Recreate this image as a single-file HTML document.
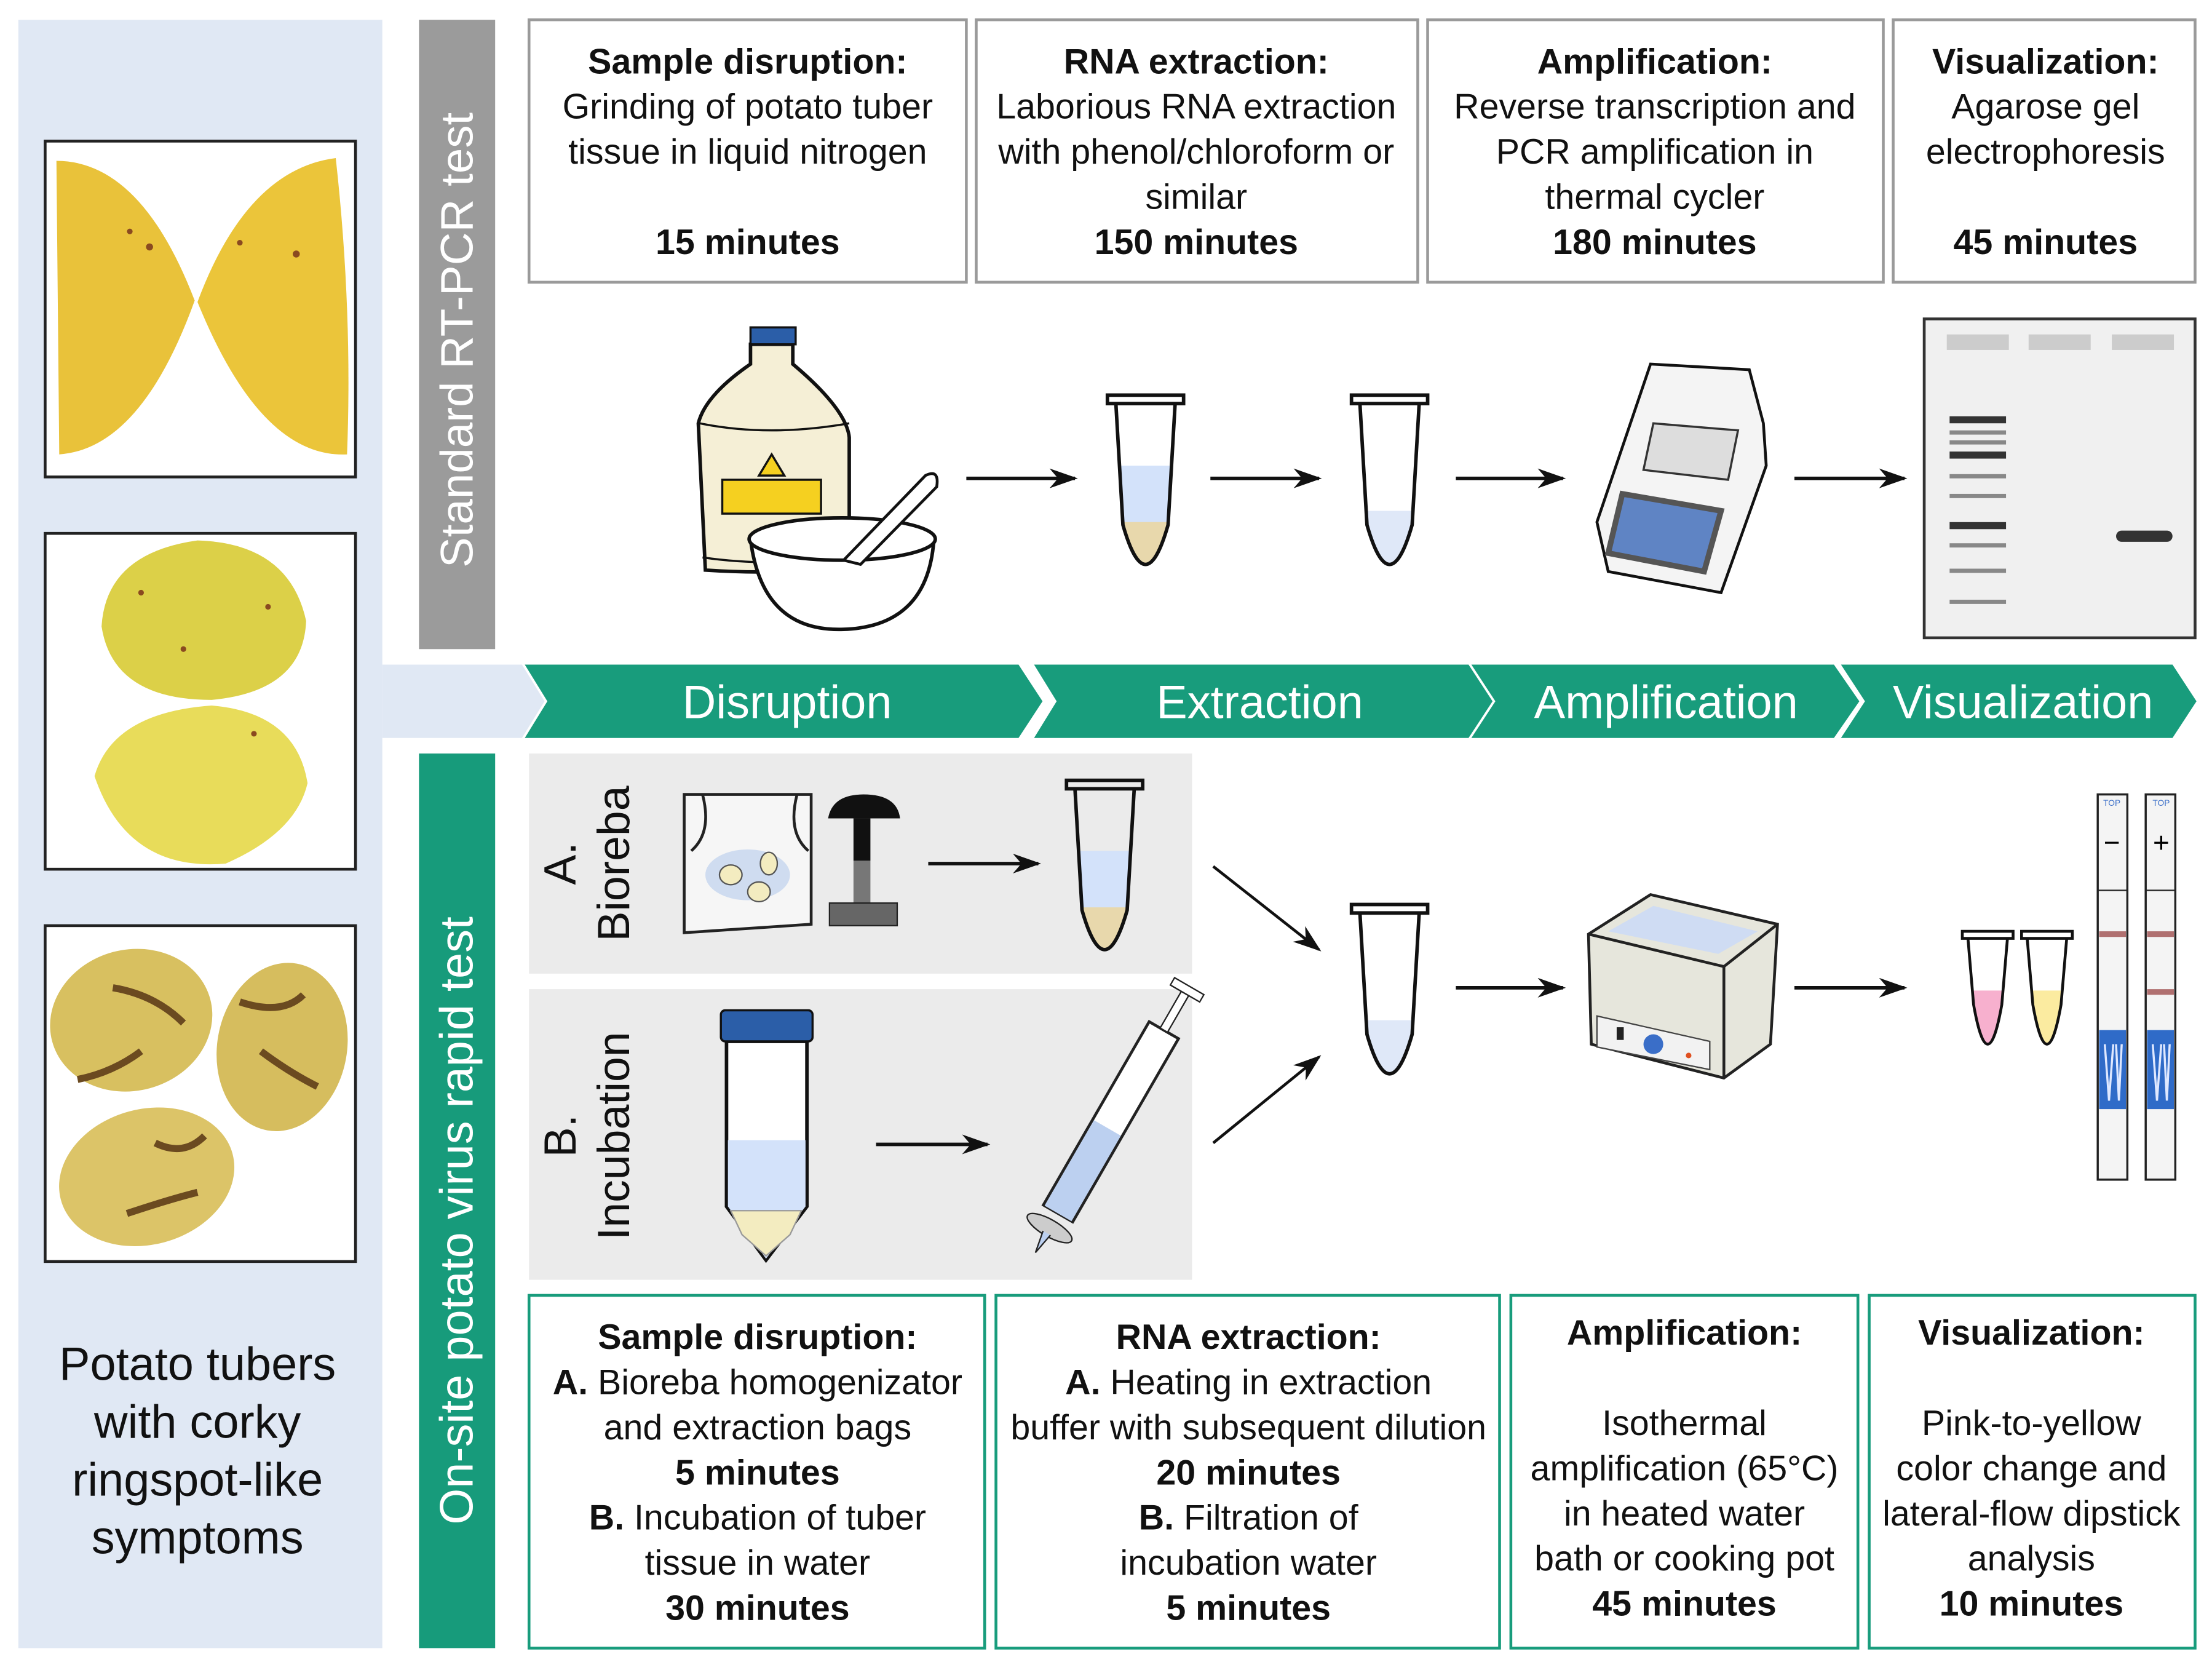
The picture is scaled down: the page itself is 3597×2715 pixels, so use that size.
<!DOCTYPE html>
<html><head><meta charset="utf-8"><style>
html,body{margin:0;padding:0;background:#fff}
svg{display:block}
text{font-family:"Liberation Sans",Arial,sans-serif}
</style></head><body>
<svg width="3597" height="2715" viewBox="0 0 1568 1183.5" xmlns="http://www.w3.org/2000/svg">
<defs>
<marker id="ah" viewBox="0 0 20 14" refX="18" refY="7" markerWidth="20" markerHeight="14" markerUnits="userSpaceOnUse" orient="auto">
<path d="M0,0 L20,7 L0,14 L6,7 Z" fill="#111"/></marker>
</defs>

<!-- left panel -->
<rect x="13" y="14" width="258" height="1154" fill="#e0e8f4"/>
<path d="M271,471 L370,471 L386,497 L370,523 L271,523 Z" fill="#e0e8f4"/>
<rect x="32" y="100" width="220" height="238" fill="#fff" stroke="#222" stroke-width="2"/>
<rect x="32" y="378" width="220" height="238" fill="#fff" stroke="#222" stroke-width="2"/>
<rect x="32" y="656" width="220" height="238" fill="#fff" stroke="#222" stroke-width="2"/>
<path d="M40,114 Q100,114 138,213 Q100,318 42,322 Z" fill="#e9c23a"/>
<path d="M140,214 Q175,120 238,112 Q250,220 246,322 Q185,325 140,214 Z" fill="#ebc53a"/>
<circle cx="92" cy="164" r="2" fill="#8a4a20"/><circle cx="106" cy="175" r="2.5" fill="#8a4a20"/><circle cx="210" cy="180" r="2.5" fill="#8a4a20"/><circle cx="170" cy="172" r="2" fill="#8a4a20"/>
<path d="M72,444 Q75,392 140,383 Q205,385 217,440 Q215,490 150,496 Q80,496 72,444Z" fill="#dcd048"/>
<path d="M67,550 Q80,505 150,500 Q210,505 218,555 Q210,590 160,612 Q90,618 67,550Z" fill="#e8dc5a"/>
<circle cx="100" cy="420" r="2" fill="#8a4a20"/><circle cx="190" cy="430" r="2" fill="#8a4a20"/><circle cx="130" cy="460" r="2" fill="#8a4a20"/><circle cx="180" cy="520" r="2" fill="#8a4a20"/>
<ellipse cx="93" cy="723" rx="58" ry="50" transform="rotate(-15 93 723)" fill="#d8c060"/>
<ellipse cx="200" cy="742" rx="46" ry="60" transform="rotate(10 200 742)" fill="#d6bd5e"/>
<ellipse cx="104" cy="834" rx="63" ry="48" transform="rotate(-15 104 834)" fill="#dcc468"/>
<path d="M80,700 Q110,705 130,725 M100,745 Q80,760 55,765 M170,710 Q200,720 215,705 M185,745 Q205,760 225,770 M110,810 Q130,820 145,805 M90,860 Q120,850 140,845" stroke="#6b4a20" stroke-width="5" fill="none"/>
<text font-size="33" text-anchor="middle" fill="#111"><tspan x="140" y="978">Potato tubers</tspan><tspan x="140" y="1019">with corky</tspan><tspan x="140" y="1060">ringspot-like</tspan><tspan x="140" y="1101">symptoms</tspan></text>

<rect x="297" y="14" width="54" height="446" fill="#9b9b9b"/>
<text transform="translate(335,241) rotate(-90)" font-size="32.5" fill="#fff" text-anchor="middle">Standard RT-PCR test</text>
<rect x="297" y="534" width="54" height="634" fill="#179b7b"/>
<text transform="translate(335,865) rotate(-90)" font-size="33" fill="#fff" text-anchor="middle">On-site potato virus rapid test</text>

<g fill="#189c7c">
<path d="M372,471 L722,471 L739,497 L722,523 L372,523 L388,497 Z"/>
<path d="M733,471 L1041,471 L1058,497 L1041,523 L733,523 L749,497 Z"/>
<path d="M1043,471 L1300,471 L1318,497 L1300,523 L1043,523 L1060,497 Z"/>
<path d="M1305,471 L1540,471 L1557,497 L1540,523 L1305,523 L1322,497 Z"/>
</g>
<g font-size="33" fill="#fff" text-anchor="middle">
<text x="558" y="509">Disruption</text><text x="893" y="509">Extraction</text>
<text x="1181" y="509">Amplification</text><text x="1434" y="509">Visualization</text>
</g>

<g fill="#fff" stroke="#9a9a9a" stroke-width="2">
<rect x="375" y="14" width="310" height="186"/><rect x="692" y="14" width="313" height="186"/>
<rect x="1012" y="14" width="323" height="186"/><rect x="1342" y="14" width="214" height="186"/>
</g>
<g font-size="25" fill="#111" text-anchor="middle">
<text x="530" y="52" font-weight="bold">Sample disruption:</text>
<text x="530" y="84">Grinding of potato tuber</text><text x="530" y="116">tissue in liquid nitrogen</text>
<text x="530" y="180" font-weight="bold">15 minutes</text>
<text x="848" y="52" font-weight="bold">RNA extraction:</text>
<text x="848" y="84">Laborious RNA extraction</text><text x="848" y="116">with phenol/chloroform or</text>
<text x="848" y="148">similar</text><text x="848" y="180" font-weight="bold">150 minutes</text>
<text x="1173" y="52" font-weight="bold">Amplification:</text>
<text x="1173" y="84">Reverse transcription and</text><text x="1173" y="116">PCR amplification in</text>
<text x="1173" y="148">thermal cycler</text><text x="1173" y="180" font-weight="bold">180 minutes</text>
<text x="1450" y="52" font-weight="bold">Visualization:</text>
<text x="1450" y="84">Agarose gel</text><text x="1450" y="116">electrophoresis</text>
<text x="1450" y="180" font-weight="bold">45 minutes</text>
</g>

<path d="M532,244 L562,244 L562,258 Q600,290 602,310 L602,400 Q560,408 500,404 L495,300 Q500,280 532,258 Z" fill="#f5efd6" stroke="#111" stroke-width="2.5"/>
<rect x="532" y="232" width="32" height="12" fill="#2b5ea8" stroke="#111" stroke-width="1.5"/>
<path d="M496,300 Q545,310 602,300 M498,395 Q545,402 602,395" stroke="#111" stroke-width="1.5" fill="none"/>
<rect x="512" y="340" width="70" height="24" fill="#f5d020" stroke="#111" stroke-width="1.5"/>
<path d="M547,322 L556,337 L538,337 Z" fill="#f5d020" stroke="#111" stroke-width="1.5"/>
<path d="M532,382 Q540,448 598,446 Q658,444 662,382 Z" fill="#fff" stroke="#111" stroke-width="2.5"/>
<ellipse cx="597" cy="382" rx="66" ry="15" fill="#fff" stroke="#111" stroke-width="2.5"/>
<path d="M598,397 L656,337 Q666,332 664,345 L610,400 Z" fill="#fff" stroke="#111" stroke-width="2"/>
<path d="M-19,50 L-16,92 Q-8,120 0,120 Q8,120 16,92 L19,50 Z" transform="translate(812,280)" fill="#d3e2fa"/>
<path d="M-16,90 Q-8,120 0,120 Q8,120 16,90 Z" transform="translate(812,280)" fill="#e8d8ac"/>
<path d="M-17,82 L-16,92 Q-8,120 0,120 Q8,120 16,92 L17,82 Z" transform="translate(985,280)" fill="#dfe8f8"/>
<path d="M-21,6 L-16,92 Q-8,120 0,120 Q8,120 16,92 L21,6 Z M-27,0 h54 v6 h-54 Z" transform="translate(985,280)" fill="none" stroke="#111" stroke-width="2.5"/>
<path d="M-21,6 L-16,92 Q-8,120 0,120 Q8,120 16,92 L21,6 Z M-27,0 h54 v6 h-54 Z" transform="translate(812,280)" fill="none" stroke="#111" stroke-width="2.5"/>
<path d="M1170,258 L1240,262 L1250,300 L1252,330 L1220,420 L1140,405 L1132,370 Z" fill="#f4f4f4" stroke="#111" stroke-width="2"/>
<path d="M1172,300 L1232,305 L1225,340 L1165,333 Z" fill="#ddd" stroke="#333" stroke-width="1.5"/>
<path d="M1150,350 L1220,362 L1208,405 L1140,392 Z" fill="#5f84c4" stroke="#555" stroke-width="4"/>
<rect x="1364" y="226" width="192" height="226" fill="#f0f0f0" stroke="#333" stroke-width="2"/>
<g fill="#ccc"><rect x="1380" y="237" width="44" height="11"/><rect x="1438" y="237" width="44" height="11"/><rect x="1497" y="237" width="44" height="11"/></g>
<g fill="#333"><rect x="1382" y="295" width="40" height="5"/><rect x="1382" y="320" width="40" height="5"/><rect x="1382" y="370" width="40" height="5"/><rect x="1500" y="376" width="40" height="8" rx="4"/></g>
<g fill="#888"><rect x="1382" y="305" width="40" height="3"/><rect x="1382" y="312" width="40" height="3"/><rect x="1382" y="336" width="40" height="3"/><rect x="1382" y="350" width="40" height="3"/><rect x="1382" y="385" width="40" height="3"/><rect x="1382" y="403" width="40" height="3"/><rect x="1382" y="425" width="40" height="3"/></g>
<g stroke="#111" stroke-width="2.5" marker-end="url(#ah)">
<line x1="685" y1="339" x2="762" y2="339"/><line x1="858" y1="339" x2="935" y2="339"/>
<line x1="1032" y1="339" x2="1108" y2="339"/><line x1="1272" y1="339" x2="1350" y2="339"/>
</g>

<rect x="375" y="534" width="470" height="156" fill="#ebebeb"/>
<rect x="375" y="701" width="470" height="206" fill="#ebebeb"/>
<text transform="translate(408,612) rotate(-90)" font-size="32" fill="#111" text-anchor="middle">A.</text>
<text transform="translate(446,612) rotate(-90)" font-size="32" fill="#111" text-anchor="middle">Bioreba</text>
<text transform="translate(408,805) rotate(-90)" font-size="32" fill="#111" text-anchor="middle">B.</text>
<text transform="translate(446,805) rotate(-90)" font-size="32" fill="#111" text-anchor="middle">Incubation</text>
<path d="M485,563 L575,563 L575,655 L485,661 Z" fill="#f6f6f6" stroke="#222" stroke-width="2"/>
<path d="M498,563 Q505,590 490,603 M565,563 Q558,590 573,603" stroke="#222" stroke-width="2" fill="none"/>
<ellipse cx="530" cy="620" rx="30" ry="18" fill="#cfdcf0"/>
<ellipse cx="518" cy="620" rx="8" ry="7" fill="#f3ecc0" stroke="#555"/><ellipse cx="538" cy="632" rx="8" ry="7" fill="#f3ecc0" stroke="#555"/><ellipse cx="545" cy="612" rx="6" ry="8" fill="#f3ecc0" stroke="#555"/>
<path d="M587,580 Q590,563 612,563 Q636,563 638,580 Z" fill="#111"/>
<rect x="605" y="580" width="12" height="30" fill="#111"/><rect x="605" y="610" width="12" height="30" fill="#777"/>
<rect x="588" y="640" width="48" height="16" fill="#666" stroke="#222"/>
<line x1="658" y1="612" x2="736" y2="612" stroke="#111" stroke-width="2.5" marker-end="url(#ah)"/>
<path d="M-19,50 L-16,92 Q-8,120 0,120 Q8,120 16,92 L19,50 Z" transform="translate(783,553)" fill="#d3e2fa"/>
<path d="M-16,90 Q-8,120 0,120 Q8,120 16,90 Z" transform="translate(783,553)" fill="#e8d8ac"/>
<path d="M-21,6 L-16,92 Q-8,120 0,120 Q8,120 16,92 L21,6 Z M-27,0 h54 v6 h-54 Z" transform="translate(783,553)" fill="none" stroke="#111" stroke-width="2.5"/>
<path d="M515,738 L572,738 L572,855 L543,893 L515,855 Z" fill="#fff" stroke="#111" stroke-width="2.5"/>
<path d="M516,808 L571,808 L571,855 L543,892 L516,855 Z" fill="#d3e2fa"/>
<path d="M518,858 L568,858 L560,875 L543,890 L526,875 Z" fill="#f3ecc0" stroke="#999"/>
<rect x="511" y="716" width="65" height="22" rx="3" fill="#2b5ea8" stroke="#111" stroke-width="1.5"/>
<line x1="621" y1="811" x2="700" y2="811" stroke="#111" stroke-width="2.5" marker-end="url(#ah)"/>
<g transform="translate(780,808) rotate(30)">
<rect x="-12" y="-90" width="24" height="150" fill="#fff" stroke="#222" stroke-width="2"/>
<rect x="-11" y="-10" width="22" height="70" fill="#bcd0f0"/>
<rect x="-3" y="-120" width="6" height="30" fill="#fff" stroke="#222"/>
<rect x="-12" y="-126" width="24" height="6" fill="#fff" stroke="#222"/>
<ellipse cx="0" cy="72" rx="18" ry="6" fill="#ccc" stroke="#222"/>
<path d="M-3,76 L0,92 L3,76" fill="#bcd0f0" stroke="#222"/>
</g>
<g stroke="#111" stroke-width="2" marker-end="url(#ah)">
<line x1="860" y1="614" x2="935" y2="673"/><line x1="860" y1="810" x2="935" y2="749"/>
</g>
<path d="M-17,82 L-16,92 Q-8,120 0,120 Q8,120 16,92 L17,82 Z" transform="translate(985,641)" fill="#dfe8f8"/>
<path d="M-21,6 L-16,92 Q-8,120 0,120 Q8,120 16,92 L21,6 Z M-27,0 h54 v6 h-54 Z" transform="translate(985,641)" fill="none" stroke="#111" stroke-width="2.5"/>
<g stroke="#111" stroke-width="2.5" marker-end="url(#ah)">
<line x1="1032" y1="700" x2="1108" y2="700"/><line x1="1272" y1="700" x2="1350" y2="700"/>
</g>
<path d="M1126,662 L1170,634 L1260,655 L1255,740 L1222,764 L1128,740 Z" fill="#e6e6dc" stroke="#222" stroke-width="2"/>
<path d="M1126,662 L1222,685 L1260,655 M1222,685 L1222,764" stroke="#222" stroke-width="2" fill="none"/>
<path d="M1140,660 L1172,642 L1246,660 L1218,676 Z" fill="#cfdcf3"/>
<path d="M1132,720 L1212,738 L1212,758 L1132,742 Z" fill="#f2f2f2" stroke="#444"/>
<circle cx="1172" cy="740" r="7" fill="#3a6ec8"/><rect x="1146" y="728" width="5" height="9" fill="#222"/><circle cx="1197" cy="748" r="2" fill="#e05020"/>
<path d="M-14,5 L-10,52 Q-5,80 0,80 Q5,80 10,52 L14,5 Z" transform="translate(1409,660)" fill="#f7b0ce"/>
<path d="M-14,5 L-14,42 L14,42 L14,5 Z" transform="translate(1409,660)" fill="#fff"/>
<path d="M-14,5 L-10,52 Q-5,80 0,80 Q5,80 10,52 L14,5 Z M-18,0 h36 v5 h-36 Z" transform="translate(1409,660)" fill="none" stroke="#111" stroke-width="2"/>
<path d="M-14,5 L-10,52 Q-5,80 0,80 Q5,80 10,52 L14,5 Z" transform="translate(1451,660)" fill="#fbeba0"/>
<path d="M-14,5 L-14,42 L14,42 L14,5 Z" transform="translate(1451,660)" fill="#fff"/>
<path d="M-14,5 L-10,52 Q-5,80 0,80 Q5,80 10,52 L14,5 Z M-18,0 h36 v5 h-36 Z" transform="translate(1451,660)" fill="none" stroke="#111" stroke-width="2"/>
<g stroke="#222" stroke-width="1.5" fill="#f4f4f4">
<rect x="1487" y="563" width="21" height="273"/><rect x="1521" y="563" width="21" height="273"/>
</g>
<line x1="1487" y1="631" x2="1508" y2="631" stroke="#222"/><line x1="1521" y1="631" x2="1542" y2="631" stroke="#222"/>
<rect x="1488" y="660" width="19" height="4" fill="#b07070"/><rect x="1522" y="660" width="19" height="4" fill="#b07070"/><rect x="1522" y="701" width="19" height="4" fill="#b07070"/>
<rect x="1488" y="730" width="19" height="56" fill="#2f6bc8"/><rect x="1522" y="730" width="19" height="56" fill="#2f6bc8"/>
<path d="M1492,740 L1495,780 L1498,740 M1500,740 L1502,780 L1504,740 M1526,740 L1529,780 L1532,740 M1534,740 L1536,780 L1538,740" stroke="#dfe8ff" stroke-width="1.5" fill="none"/>
<text x="1497" y="604" font-size="20" text-anchor="middle">−</text><text x="1532" y="604" font-size="20" text-anchor="middle">+</text>
<text x="1497" y="571" font-size="6" fill="#3a6ec8" text-anchor="middle">TOP</text><text x="1532" y="571" font-size="6" fill="#3a6ec8" text-anchor="middle">TOP</text>

<g fill="#fff" stroke="#189c7c" stroke-width="2">
<rect x="375" y="918" width="323" height="250"/><rect x="706" y="918" width="357" height="250"/>
<rect x="1071" y="918" width="246" height="250"/><rect x="1325" y="918" width="231" height="250"/>
</g>
<g font-size="25" fill="#111" text-anchor="middle">
<text x="537" y="956" font-weight="bold">Sample disruption:</text>
<text x="537" y="988"><tspan font-weight="bold">A.</tspan> Bioreba homogenizator</text>
<text x="537" y="1020">and extraction bags</text>
<text x="537" y="1052" font-weight="bold">5 minutes</text>
<text x="537" y="1084"><tspan font-weight="bold">B.</tspan> Incubation of tuber</text>
<text x="537" y="1116">tissue in water</text>
<text x="537" y="1148" font-weight="bold">30 minutes</text>
<text x="885" y="956" font-weight="bold">RNA extraction:</text>
<text x="885" y="988"><tspan font-weight="bold">A.</tspan> Heating in extraction</text>
<text x="885" y="1020">buffer with subsequent dilution</text>
<text x="885" y="1052" font-weight="bold">20 minutes</text>
<text x="885" y="1084"><tspan font-weight="bold">B.</tspan> Filtration of</text>
<text x="885" y="1116">incubation water</text>
<text x="885" y="1148" font-weight="bold">5 minutes</text>
<text x="1194" y="953" font-weight="bold">Amplification:</text>
<text x="1194" y="1017">Isothermal</text><text x="1194" y="1049">amplification (65°C)</text>
<text x="1194" y="1081">in heated water</text><text x="1194" y="1113">bath or cooking pot</text>
<text x="1194" y="1145" font-weight="bold">45 minutes</text>
<text x="1440" y="953" font-weight="bold">Visualization:</text>
<text x="1440" y="1017">Pink-to-yellow</text><text x="1440" y="1049">color change and</text>
<text x="1440" y="1081">lateral-flow dipstick</text><text x="1440" y="1113">analysis</text>
<text x="1440" y="1145" font-weight="bold">10 minutes</text>
</g>
</svg>
</body></html>
